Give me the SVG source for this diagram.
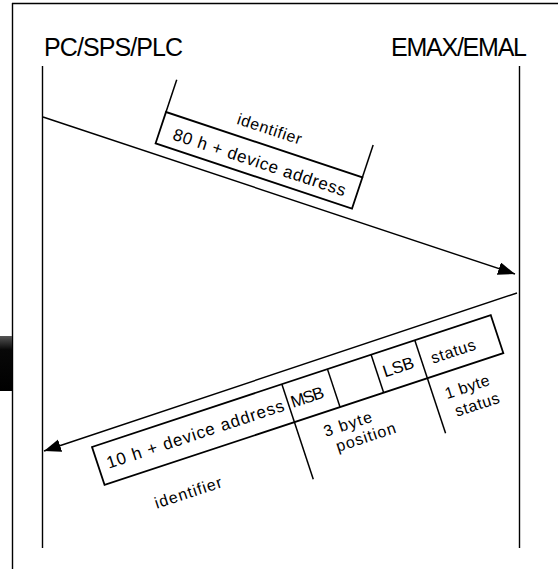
<svg xmlns="http://www.w3.org/2000/svg" width="558" height="569" viewBox="0 0 558 569">
<style>
.ln{stroke:#000;stroke-width:1.4;fill:none}
.bx{stroke:#000;stroke-width:1.8;fill:#fff}
.dv{stroke:#000;stroke-width:1.5;fill:none}
text{font-family:"Liberation Sans",Arial,sans-serif;fill:#000}
.t{font-size:25px}
.m{font-size:17px}
.s{font-size:16px}
</style>
<defs>
<marker id="ah" markerUnits="userSpaceOnUse" markerWidth="18" markerHeight="14" refX="17" refY="6.5" orient="auto">
<path d="M0,0 L17,6.5 L0,13 Z" fill="#000"/>
</marker>
<linearGradient id="blk" x1="0" y1="0" x2="0" y2="1">
<stop offset="0" stop-color="#555"/>
<stop offset="0.25" stop-color="#080808"/>
<stop offset="1" stop-color="#000"/>
</linearGradient>
</defs>
<rect width="558" height="569" fill="#fff"/>
<g id="frame">
<line class="ln" x1="12" y1="3.5" x2="558" y2="3.5"/>
<line class="ln" x1="12.5" y1="3" x2="12.5" y2="569"/>
<rect x="0" y="336" width="12" height="55" fill="url(#blk)"/>
</g>
<g id="pc">
<text class="t" x="44" y="56" textLength="139">PC/SPS/PLC</text>
<line class="ln" x1="42.5" y1="66" x2="42.5" y2="548"/>
</g>
<g id="emax">
<text class="t" x="391" y="56" textLength="136">EMAX/EMAL</text>
<line class="ln" x1="519.5" y1="66" x2="519.5" y2="548"/>
</g>
<g id="connectors">
<line class="ln" x1="43" y1="117" x2="515" y2="274" marker-end="url(#ah)"/>
<line class="ln" x1="517" y1="293" x2="44" y2="451" marker-end="url(#ah)"/>
</g>
<g id="packet1" transform="translate(166,112) rotate(18.4)">
<rect class="bx" x="0" y="0" width="207" height="33"/>
<line class="dv" x1="0" y1="0" x2="0" y2="-34"/>
<line class="dv" x1="207" y1="0" x2="207" y2="-34"/>
<text class="s" x="103.5" y="-11" text-anchor="middle" textLength="67">identifier</text>
<text class="m" x="14" y="24" textLength="181">80 h + device address</text>
</g>
<g id="packet2" transform="translate(92,447) rotate(-18.3)">
<rect class="bx" x="0" y="0" width="420" height="40"/>
<line class="dv" x1="200" y1="0" x2="200" y2="100"/>
<line class="dv" x1="248" y1="0" x2="248" y2="40"/>
<line class="dv" x1="294" y1="0" x2="294" y2="40"/>
<line class="dv" x1="340" y1="0" x2="340" y2="98"/>
<text class="m" x="9" y="26" textLength="186">10 h + device address</text>
<text class="m" x="220" y="26" text-anchor="middle" textLength="34">MSB</text>
<text class="m" x="316" y="26" text-anchor="middle" textLength="32">LSB</text>
<text class="s" x="373" y="28" text-anchor="middle" textLength="46">status</text>
<text class="s" x="77" y="79" text-anchor="middle" textLength="70">identifier</text>
<text class="s" x="225" y="64" textLength="50">3 byte</text>
<text class="s" x="232" y="82" textLength="62">position</text>
<text class="s" x="352" y="66" textLength="46">1 byte</text>
<text class="s" x="356" y="86" textLength="46">status</text>
</g>
</svg>
